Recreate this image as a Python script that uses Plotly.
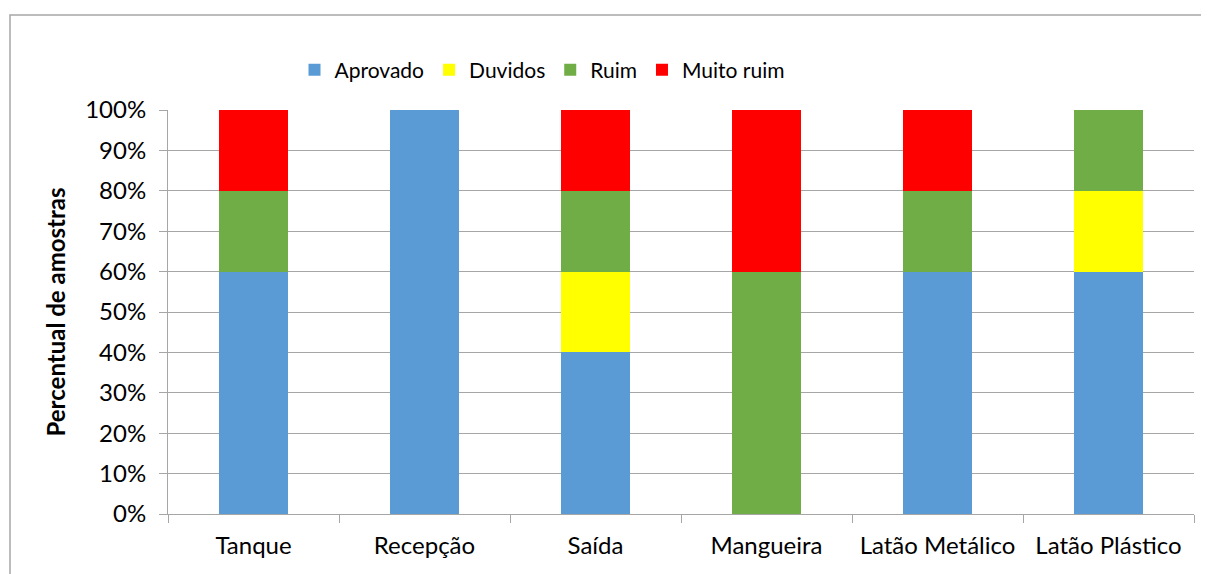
import plotly.graph_objects as go

categories = ["Tanque", "Recepção", "Saída", "Mangueira", "Latão Metálico", "Latão Plástico"]
aprovado = [60, 100, 40, 0, 60, 60]
duvidos = [0, 0, 20, 0, 0, 20]
ruim = [20, 0, 20, 60, 20, 20]
muito_ruim = [20, 0, 20, 40, 20, 0]

series = [
    ("Aprovado", aprovado, "#5B9BD5"),
    ("Duvidos", duvidos, "#FFFF00"),
    ("Ruim", ruim, "#70AD47"),
    ("Muito ruim", muito_ruim, "#FF0000"),
]

fig = go.Figure()
for name, vals, color in series:
    fig.add_trace(go.Bar(x=categories, y=vals, name=name, marker_color=color, marker_line_width=0))

# page body has an 8px margin, so figure coords = screen coords - 8
W, H = 1209, 574
L, T = 160, 102
R = W - 1186
B = H - 506
pw, ph = W - L - R, H - T - B

fig.update_layout(
    barmode="stack",
    bargap=0.6,
    width=W, height=H,
    margin=dict(l=L, r=R, t=T, b=B),
    paper_bgcolor="white",
    plot_bgcolor="white",
    font=dict(family="Lato", size=24, color="black"),
    legend=dict(
        orientation="h", x=(534 - L) / pw, xanchor="center", y=(506 - 62) / ph, yanchor="middle",
        font=dict(size=21), itemwidth=30, traceorder="normal",
    ),
    yaxis=dict(
        range=[0, 100], dtick=10, ticksuffix="%",
        showgrid=True, gridcolor="#A6A6A6", gridwidth=1,
        showline=True, linecolor="#A6A6A6", ticks="outside", ticklen=8, tickcolor="#A6A6A6",
        ticklabelstandoff=8,
        title=dict(text="<b>Percentual de amostras</b>", font=dict(size=24), standoff=12),
        zeroline=False,
    ),
    xaxis=dict(
        showline=True, linecolor="#A6A6A6", ticks="outside", ticklen=8, tickcolor="#A6A6A6",
        tickson="boundaries", ticklabelstandoff=10,
    ),
    shapes=[dict(
        type="rect", xref="paper", yref="paper",
        x0=(2 - L) / pw, x1=(W + 20 - L) / pw,
        y0=-(H + 20 - 506) / ph, y1=(506 - 7) / ph,
        line=dict(color="#A6A6A6", width=1.5), layer="below",
    )],
)

fig.write_html("out.html")
